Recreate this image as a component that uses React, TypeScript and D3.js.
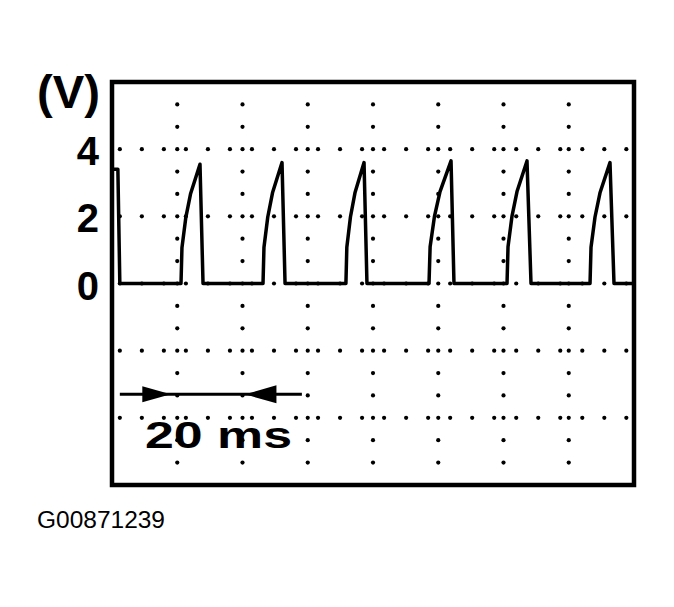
import React from "react";
import * as d3 from "d3";

// time axis in ms (8 divisions, 3 divisions = 20 ms), volts 2 V / division
const timeDomain = [0, 160 / 3];
const voltDomain = [-6, 6];

const yTickValues = [4, 2, 0];
const yUnitLabel = "(V)";
const scaleLabel = "20 ms";
const figureId = "G00871239";

// leading edge of the trace at t = 0
const leadTimes = [0, 0.6, 0.8];
const leadVolts = [3.4, 3.4, 0];

// one entry per pulse
const pulseStart = [7.05, 15.43, 23.9, 32.39, 40.36, 48.84];
const pulsePeakTime = [8.99, 17.37, 25.75, 34.64, 42.4, 50.88];
const pulseFallEnd = [9.3, 17.68, 26.05, 34.94, 42.81, 51.29];
const pulsePeakV = [3.55, 3.6, 3.6, 3.65, 3.65, 3.6];

const riseShapeT = [0, 0.05, 0.25, 0.5, 1];
const riseShapeV = [0, 0.3, 0.55, 0.75, 1];

const W = 674;
const H = 607;
const box = { left: 112, right: 634, top: 82, bottom: 485 };

export default function App() {
  const x = d3.scaleLinear().domain(timeDomain).range([box.left, box.right]);
  const y = d3.scaleLinear().domain(voltDomain).range([box.bottom, box.top]);

  const divT = 20 / 3;
  const divV = 2;

  // trace points
  const pts: [number, number][] = leadTimes.map((t, i) => [t, leadVolts[i]]);
  pulseStart.forEach((s, p) => {
    const rise = pulsePeakTime[p] - s;
    riseShapeT.forEach((f, k) => pts.push([s + f * rise, riseShapeV[k] * pulsePeakV[p]]));
    pts.push([pulseFallEnd[p], 0]);
  });
  pts.push([timeDomain[1], 0]);

  const line = d3
    .line<[number, number]>()
    .x((d) => x(d[0]))
    .y((d) => y(d[1]));

  // dotted grid
  const vLines = d3.range(1, 8).map((k) => k * divT);
  const hLines = d3.range(1, 6).map((k) => voltDomain[1] - k * divV);
  const vDots = d3.range(1, 18).map((j) => voltDomain[1] - (j * divV) / 3);
  const hDots = d3.range(0, 24).map((i) => 0.8 + i * 2.25);

  const dots: JSX.Element[] = [];
  vLines.forEach((t, a) =>
    vDots.forEach((v, b) =>
      dots.push(<circle key={`v${a}-${b}`} cx={x(t)} cy={y(v)} r={2.1} fill="#000" />)
    )
  );
  hLines.forEach((v, a) =>
    hDots.forEach((t, b) =>
      dots.push(<circle key={`h${a}-${b}`} cx={x(t)} cy={y(v)} r={2.1} fill="#000" />)
    )
  );

  // 20 ms scale marker
  const arrowY = y(-3.3);
  const arrowFrom = 0.8;
  const arrowTo = 19.4;
  const headR = [3.1, 6.0];
  const headL = [13.6, 16.8];

  return (
    <svg
      width={W}
      height={H}
      style={{ position: "absolute", left: 0, top: 0, background: "#fff" }}
      fontFamily="'Liberation Sans', Arial, sans-serif"
    >
      <rect width={W} height={H} fill="#fff" />
      {dots}

      <path d={line(pts) || ""} fill="none" stroke="#000" strokeWidth={3.5} strokeLinejoin="round" />

      {/* scale arrow */}
      <line x1={x(arrowFrom)} x2={x(arrowTo)} y1={arrowY} y2={arrowY} stroke="#000" strokeWidth={3} />
      <path
        d={`M${x(headR[0])},${arrowY - 8}L${x(headR[1])},${arrowY}L${x(headR[0])},${arrowY + 8}Z`}
        fill="#000"
      />
      <path
        d={`M${x(headL[1])},${arrowY - 9}L${x(headL[0])},${arrowY}L${x(headL[1])},${arrowY + 9}Z`}
        fill="#000"
      />
      <text x={145} y={448} fontSize={37} fontWeight="bold" textLength={147} lengthAdjust="spacingAndGlyphs">
        {scaleLabel}
      </text>

      {/* frame */}
      <rect
        x={box.left}
        y={box.top}
        width={box.right - box.left}
        height={box.bottom - box.top}
        fill="none"
        stroke="#000"
        strokeWidth={4.5}
      />

      {/* y labels */}
      <text x={100} y={108} fontSize={46} textAnchor="end" fontWeight="bold" textLength={63} lengthAdjust="spacingAndGlyphs">
        {yUnitLabel}
      </text>
      {yTickValues.map((v) => (
        <text key={v} x={99} y={y(v) + 16} fontSize={40} fontWeight="bold" textAnchor="end">
          {v}
        </text>
      ))}

      <text x={37} y={528} fontSize={23} textLength={128} lengthAdjust="spacingAndGlyphs">
        {figureId}
      </text>
    </svg>
  );
}
